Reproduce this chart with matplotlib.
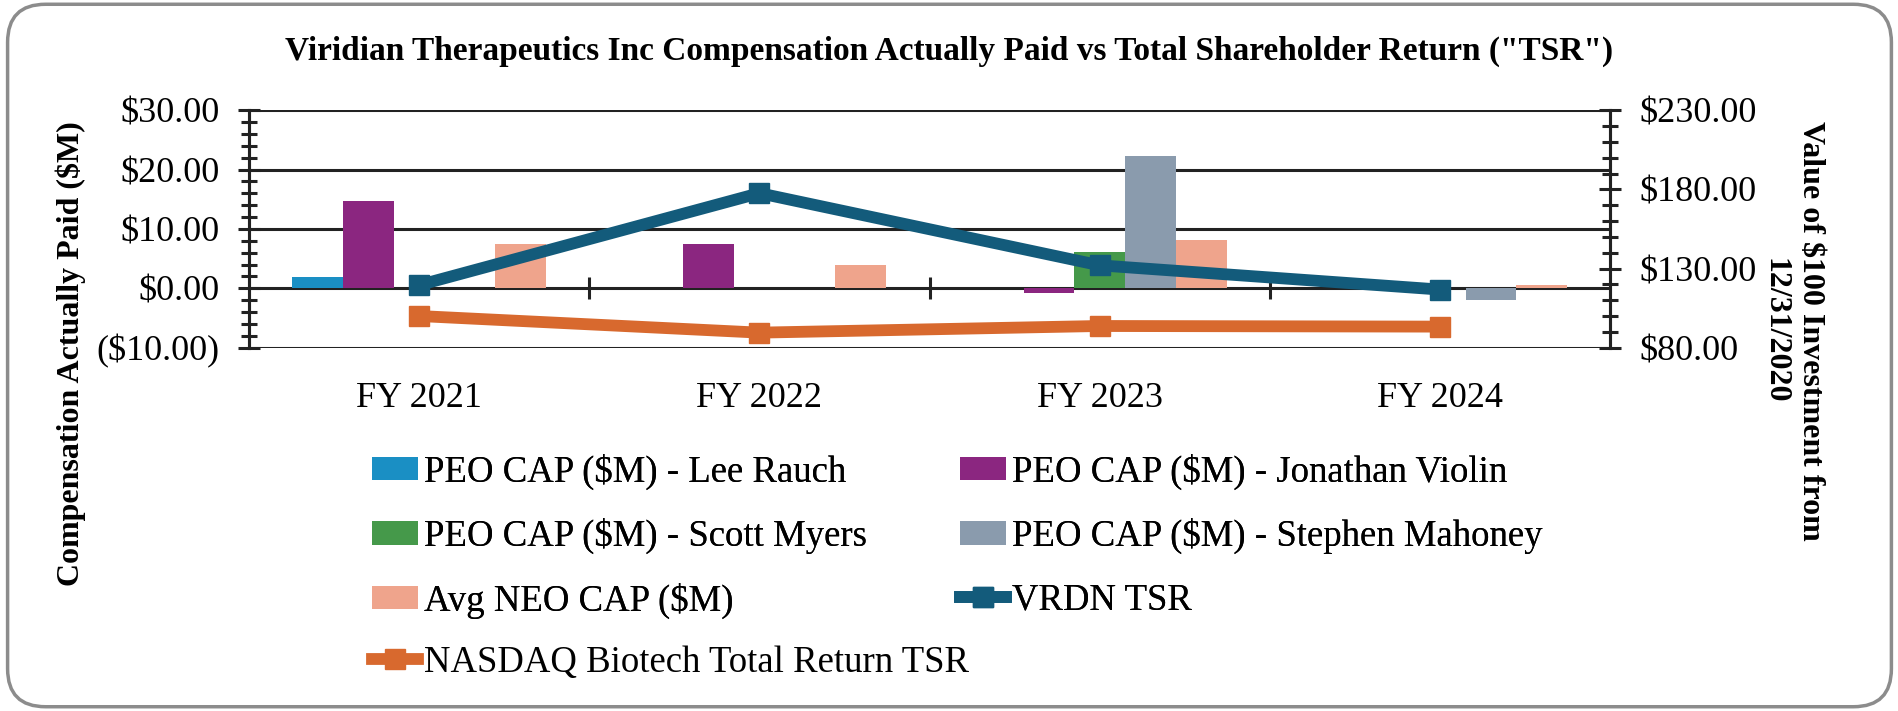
import numpy as np
import matplotlib
matplotlib.use('Agg')
import matplotlib.pyplot as plt
from matplotlib.patches import FancyBboxPatch
from matplotlib.ticker import MultipleLocator, FuncFormatter

plt.rcParams['font.family'] = ['Liberation Serif', 'DejaVu Serif']

# Data
years = ['FY 2021', 'FY 2022', 'FY 2023', 'FY 2024']
cap_rauch = [1.9, 0.0, 0.0, 0.0]
cap_violin = [14.75, 7.5, -0.8, 0.0]
cap_myers = [0.0, 0.0, 6.1, 0.0]
cap_mahoney = [0.0, 0.0, 22.3, -2.0]
cap_neo = [7.5, 3.85, 8.2, 0.6]
tsr_vrdn = [119.5, 177.6, 132.0, 116.7]
tsr_nasdaq = [100.0, 89.5, 93.7, 93.3]

bar_labels = ['PEO CAP ($M) - Lee Rauch', 'PEO CAP ($M) - Jonathan Violin',
              'PEO CAP ($M) - Scott Myers', 'PEO CAP ($M) - Stephen Mahoney',
              'Avg NEO CAP ($M)']
bar_colors = ['#1a8fc4', '#8b2680', '#45994a', '#8a9bad', '#efa48c']
bar_series = [cap_rauch, cap_violin, cap_myers, cap_mahoney, cap_neo]
right_ticks = [80, 130, 180, 230]

fig = plt.figure(figsize=(18.99, 7.11), dpi=100)
ax = fig.add_axes([0.131, 0.511, 0.717, 0.334])
ax2 = ax.twinx()

x = np.arange(len(years))
w = 0.149
bars = []
for i, (vals, lab, col) in enumerate(zip(bar_series, bar_labels, bar_colors)):
    b = ax.bar(x + (i - 2) * w, vals, w, color=col, linewidth=0, label=lab, zorder=2)
    bars.append(b)

l1, = ax2.plot(x, tsr_vrdn, color='#135b7b', lw=8.5, marker='s', ms=15, label='VRDN TSR')
l2, = ax2.plot(x, tsr_nasdaq, color='#d8692e', lw=8.5, marker='s', ms=15,
               label='NASDAQ Biotech Total Return TSR')

ax.set_xlim(-0.5, 3.5)
ax.set_ylim(-10, 30)
ax2.set_ylim(80, 230)

ax.yaxis.set_major_locator(MultipleLocator(10))
ax.yaxis.set_minor_locator(MultipleLocator(2))
ax2.set_yticks(right_ticks)
ax2.yaxis.set_minor_locator(MultipleLocator(10))

def left_fmt(v, pos):
    if v < 0:
        return '(${:.2f})'.format(-v)
    return '${:.2f}'.format(v)

ax.yaxis.set_major_formatter(FuncFormatter(left_fmt))
ax2.yaxis.set_major_formatter(FuncFormatter(lambda v, p: '${:.2f}'.format(v)))

ax.grid(axis='y', color='#222222', lw=2.2)
ax.set_axisbelow(True)

for a in (ax, ax2):
    for s in a.spines.values():
        s.set_linewidth(2.2)
        s.set_color('#222222')
    a.spines['top'].set_visible(False)
    a.spines['bottom'].set_visible(False)

ax.tick_params(axis='y', which='major', direction='inout', length=16, width=2.2,
               labelsize=26, pad=13, color='#222222')
ax.tick_params(axis='y', which='minor', direction='inout', length=12, width=2.2,
               color='#222222')
ax2.tick_params(axis='y', which='major', direction='inout', length=16, width=2.2,
                labelsize=26, pad=13, color='#222222')
ax2.tick_params(axis='y', which='minor', direction='inout', length=12, width=2.2,
                color='#222222')

ax.set_xticks(x)
ax.set_xticklabels(years)
ax.tick_params(axis='x', length=0, labelsize=26, pad=25)

# category separators on the zero line
sec = ax.secondary_xaxis(0.25)
sec.set_xticks([0.5, 1.5, 2.5])
sec.set_xticklabels(['', '', ''])
sec.tick_params(axis='x', direction='inout', length=16, width=2.2, color='#222222')
sec.spines['bottom'].set_visible(False)

fig.text(0.5, 0.928, 'Viridian Therapeutics Inc Compensation Actually Paid vs Total Shareholder Return ("TSR")',
         ha='center', va='center', fontsize=24, fontweight='bold')
fig.text(0.037, 0.502, 'Compensation Actually Paid ($M)', rotation=90, ha='center', va='center',
         fontsize=23, fontweight='bold')
fig.text(0.944, 0.535, 'Value of $100 Investment from\n12/31/2020', rotation=270, ha='center',
         va='center', fontsize=23, fontweight='bold', linespacing=1.28)

leg_prop = {'family': ['Liberation Serif', 'DejaVu Serif'], 'size': 26.5}
leg_kw = dict(frameon=False, prop=leg_prop, handlelength=1.25, handleheight=0.6,
              handletextpad=0.17, labelspacing=0.77, borderpad=0, borderaxespad=0)

# first three rows (two columns, filled column-wise)
top_handles = [bars[0], bars[2], bars[4], bars[1], bars[3], l1]
top_labels = [bar_labels[0], bar_labels[2], bar_labels[4], bar_labels[1], bar_labels[3], 'VRDN TSR']
leg = fig.legend(top_handles, top_labels, ncol=2, loc='upper left', bbox_to_anchor=(0.196, 0.362),
                 columnspacing=2.52, **leg_kw)
fig.add_artist(leg)
# last row
fig.legend([l2], ['NASDAQ Biotech Total Return TSR'], loc='upper left',
           bbox_to_anchor=(0.196, 0.362 - 3 * 0.0898), **leg_kw)

border = FancyBboxPatch((0.004, 0.006), 0.992, 0.988, boxstyle='round,pad=0,rounding_size=0.02',
                        transform=fig.transFigure, fill=False, edgecolor='#8c8c8c', lw=2.5,
                        mutation_aspect=2.67)
fig.patches.append(border)

fig.savefig('out.png', dpi=100)
